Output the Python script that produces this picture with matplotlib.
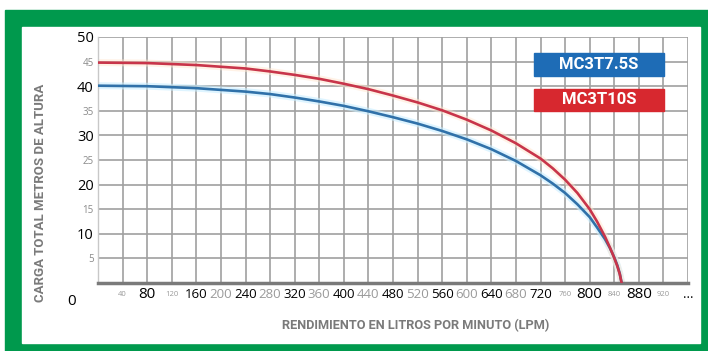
import matplotlib
matplotlib.use("Agg")
from matplotlib import pyplot as plt
from matplotlib.patches import Rectangle

# --- data ---
lpm = [0, 80, 160, 240, 280, 320, 360, 400, 440, 480, 520, 560, 600, 640, 680, 720, 740, 760, 780,
       800, 812, 825, 833, 840, 845, 849, 852]
head_red = [44.8, 44.7, 44.3, 43.6, 43.0, 42.3, 41.5, 40.5, 39.4, 38.1, 36.7, 35.1, 33.2, 31.0, 28.4, 25.3,
            23.3, 21.0, 18.3, 15.0, 12.5, 9.4, 7.2, 5.1, 3.4, 1.8, 0]
head_blue = [40.1, 40.0, 39.6, 38.9, 38.4, 37.7, 36.9, 36.0, 34.9, 33.7, 32.4, 30.9, 29.2, 27.2, 24.8, 21.9,
             20.2, 18.3, 16.0, 13.4, 11.3, 8.9, 7.1, 5.2, 3.6, 1.9, 0]

series_names = ["MC3T7.5S", "MC3T10S"]

x_ticks = list(range(40, 961, 40))
x_labels = ["40", "80", "120", "160", "200", "240", "280", "320", "360", "400", "440", "480",
            "520", "560", "600", "640", "680", "720", "760", "800", "840", "880", "920", "..."]
# style class per x label: b=big black, m=medium black, g=medium gray, s=small gray
x_style = ["s", "b", "s", "m", "g", "m", "g", "m", "g", "m", "g", "m",
           "g", "m", "g", "m", "g", "m", "s", "b", "s", "b", "s", "m"]
y_ticks = [5, 10, 15, 20, 25, 30, 35, 40, 45, 50]
y_labels = ["5", "10", "15", "20", "25", "30", "35", "40", "45", "50"]

RED = "#c8354a"
BLUE = "#3071a9"
GREEN = "#00994d"
W, H = 708, 351

fig = plt.figure(figsize=(W / 100, H / 100), dpi=100)

# green frame
fig.add_artist(Rectangle((5 / W, 0), 1, 1 - 10 / H, transform=fig.transFigure,
                         color=GREEN, zorder=-10))
fig.add_artist(Rectangle((22 / W, 8 / H), (700 - 22) / W, (343 - 27) / H,
                         transform=fig.transFigure, color="white", zorder=-9))

ax = fig.add_axes([98 / W, (H - 283) / H, (688 - 98) / W, (283 - 37) / H])
ax.set_xlim(0, 960)
ax.set_ylim(0, 50)

for xv in range(40, 961, 40):
    ax.axvline(xv, color="#a0a0a0", lw=1.2, zorder=1)
for yv in range(5, 51, 5):
    ax.axhline(yv, color="#a0a0a0", lw=1.2, zorder=1)

for s in ["top", "right"]:
    ax.spines[s].set_visible(False)
ax.spines["left"].set_color("#c8c8c8")
ax.spines["left"].set_linewidth(1.0)
ax.spines["bottom"].set_color("#7a7a7a")
ax.spines["bottom"].set_linewidth(2.5)

# soft halos behind the curves
ax.plot(lpm, head_blue, color="#c8eeff", lw=5, alpha=0.6, zorder=2, solid_capstyle="butt",
        solid_joinstyle="round")
ax.plot(lpm, head_red, color="#ffe6cf", lw=5, alpha=0.5, zorder=2, solid_capstyle="butt",
        solid_joinstyle="round")
ax.plot(lpm, head_blue, color=BLUE, lw=1.9, zorder=3, solid_joinstyle="round")
ax.plot(lpm, head_red, color=RED, lw=1.9, zorder=4, solid_joinstyle="round")

ax.tick_params(length=0)
ax.set_xticks(x_ticks)
ax.set_xticklabels(x_labels, fontfamily="Open Sans")
styles = {"b": (11, "black"), "m": (9.5, "black"), "g": (9.5, "#9a9a9a"), "s": (5.5, "#9a9a9a")}
for lab, st in zip(ax.get_xticklabels(), x_style):
    size, col = styles[st]
    lab.set_fontsize(size)
    lab.set_color(col)
    lab.set_verticalalignment("center")
ax.tick_params(axis="x", pad=8)

ax.set_yticks(y_ticks)
ax.set_yticklabels(y_labels, fontfamily="Open Sans")
for lab, val in zip(ax.get_yticklabels(), y_ticks):
    if val % 10 == 0:
        lab.set_fontsize(10.5)
        lab.set_color("black")
    else:
        lab.set_fontsize(7)
        lab.set_color("#8a8a8a")
ax.tick_params(axis="y", pad=3)

# shared origin label
ax.annotate("0", xy=(0, 0), xytext=(-19, -13), textcoords="offset points",
            ha="center", va="center", fontsize=11, fontfamily="Open Sans", color="black")

ax.set_xlabel("RENDIMIENTO EN LITROS POR MINUTO (LPM)", fontfamily="Roboto", fontweight="bold",
              fontsize=9.2, color="#7a7a7a")
ax.xaxis.set_label_coords(0.539, -0.171)
ax.xaxis.label.set_verticalalignment("center")
ax.set_ylabel("CARGA TOTAL METROS DE ALTURA", fontfamily="Roboto", fontweight="bold",
              fontsize=9.5, color="#7a7a7a")
ax.yaxis.set_label_coords(-0.098, 0.366)
ax.yaxis.label.set_verticalalignment("center")

# legend boxes
for name, col, y0, y1 in [(series_names[0], "#1e6cb6", 0.841, 0.935),
                          (series_names[1], "#d7282f", 0.699, 0.789)]:
    ax.add_patch(Rectangle((0.739, y0), 0.22, y1 - y0, transform=ax.transAxes,
                           color=col, zorder=5, clip_on=False))
    ax.text(0.849, (y0 + y1) / 2, name, transform=ax.transAxes, ha="center", va="center",
            color="white", fontsize=12, fontweight="bold", fontfamily="Roboto", zorder=6)

fig.savefig("out.png", dpi=100)
